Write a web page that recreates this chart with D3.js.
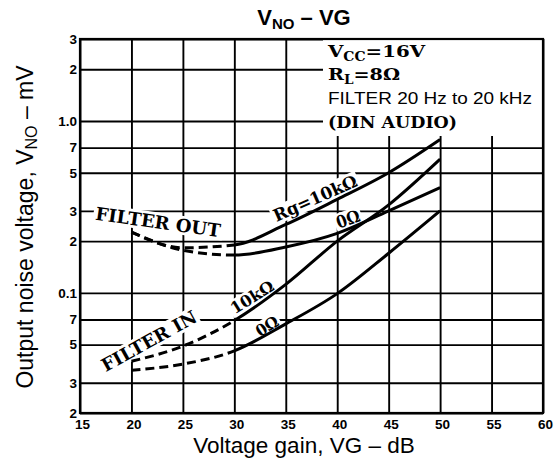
<!DOCTYPE html>
<html><head><meta charset="utf-8">
<script src="https://cdn.jsdelivr.net/npm/d3@7"></script>
<style>body{margin:0;background:#fff}</style>
</head><body>
<svg id="c" width="559" height="464"></svg>
<script>
// ---- data ----
const gains = [20, 25, 30, 35, 40, 45, 50];
const outRg10k = [0.226, 0.183, 0.19, 0.25, 0.35, 0.5, 0.78];
const outRg0   = [0.226, 0.177, 0.166, 0.185, 0.222, 0.3, 0.41];
const inRg10k  = [0.040, 0.049, 0.069, 0.112, 0.2, 0.325, 0.6];
const inRg0    = [0.0355, 0.0385, 0.046, 0.066, 0.099, 0.17, 0.3];
const filterSplit = 30; // dashed below, solid above
const xTicks = [15, 20, 25, 30, 35, 40, 45, 50, 55, 60];
const yTickValues = [3, 2, 1, 0.7, 0.5, 0.3, 0.2, 0.1, 0.07, 0.05, 0.03, 0.02];
const yTickLabels = ["3", "2", "1.0", "7", "5", "3", "2", "0.1", "7", "5", "3", "2"];

const svg = d3.select("#c");
const L = 80, R = 543, T = 39, B = 413;
const x = d3.scaleLinear().domain([15, 60]).range([L, R]);
const y = d3.scaleLog().domain([0.02, 3]).range([B, T]);
const tickFont = "'Liberation Sans', Arial, sans-serif";
const serif = "'DejaVu Serif', serif";

// grid via axes
const gy = svg.append("g").attr("transform", `translate(${L},0)`)
  .call(d3.axisLeft(y).tickValues(yTickValues).tickFormat((d, i) => yTickLabels[i])
    .tickSize(-(R - L)).tickPadding(3));
const gx = svg.append("g").attr("transform", `translate(0,${B})`)
  .call(d3.axisBottom(x).tickValues(xTicks).tickFormat(d3.format("d"))
    .tickSize(-(B - T)).tickPadding(6));
[gx, gy].forEach(g => {
  g.select(".domain").remove();
  g.selectAll(".tick line").attr("stroke", "#000").attr("stroke-width", 1.9);
  g.selectAll(".tick text").attr("fill", "#000").attr("font-family", tickFont)
    .attr("font-weight", "bold").attr("font-size", 13.5);
});
gx.selectAll(".tick text").attr("dx", 2);

// legend area mask
svg.append("rect").attr("x", 323).attr("y", T - 2).attr("width", R - 323 - 1).attr("height", 136 - T + 2)
  .attr("fill", "#fff");

// frame
svg.append("rect").attr("x", L).attr("y", T).attr("width", R - L).attr("height", B - T)
  .attr("fill", "none").attr("stroke", "#000").attr("stroke-width", 2.2);

// rotated labels with white background
function label(txt, cx, cy, angle, size, len) {
  const g = svg.append("g").attr("transform", `translate(${cx},${cy}) rotate(${angle})`);
  const t = g.append("text").attr("text-anchor", "middle").attr("dy", "0.36em")
    .attr("font-family", serif).attr("font-weight", "bold").attr("font-size", size)
    .attr("fill", "#000").text(txt);
  if (len) t.attr("textLength", len).attr("lengthAdjust", "spacingAndGlyphs");
  const bb = t.node().getBBox();
  g.insert("rect", "text").attr("x", bb.x - 2).attr("y", bb.y + 1).attr("width", bb.width + 4)
    .attr("height", bb.height - 2).attr("fill", "#fff");
}
label("FILTER OUT", 158, 222, 8, 18, 126);
label("FILTER IN", 149, 341, -29, 18, 106);
label("Rg=10kΩ", 315, 198, -24, 17, 90);
label("0Ω", 348, 219, -20, 17, 24);
label("10kΩ", 252, 297, -32, 16, 48);
label("0Ω", 267, 326, -32, 16, 24);

// curves
const defs = svg.append("defs");
defs.append("clipPath").attr("id", "clipSolid").append("rect")
  .attr("x", x(filterSplit)).attr("y", 0).attr("width", R - x(filterSplit) + 10).attr("height", 464);
defs.append("clipPath").attr("id", "clipDash").append("rect")
  .attr("x", 0).attr("y", 0).attr("width", x(filterSplit)).attr("height", 464);

const line = d3.line().x(d => x(d[0])).y(d => y(d[1])).curve(d3.curveMonotoneX);
[outRg10k, outRg0, inRg10k, inRg0].forEach(vals => {
  const pts = gains.map((g, i) => [g, vals[i]]);
  svg.append("path").attr("d", line(pts)).attr("fill", "none").attr("stroke", "#000")
    .attr("stroke-width", 3).attr("clip-path", "url(#clipSolid)");
  svg.append("path").attr("d", line(pts)).attr("fill", "none").attr("stroke", "#000")
    .attr("stroke-width", 3).attr("stroke-dasharray", "9,5").attr("clip-path", "url(#clipDash)");
});

// legend text
const lg = svg.append("g").attr("font-family", serif).attr("font-weight", "bold").attr("fill", "#000");
const t1 = lg.append("text").attr("x", 328).attr("y", 57).attr("font-size", 17)
  .attr("textLength", 97).attr("lengthAdjust", "spacingAndGlyphs");
t1.append("tspan").text("V");
t1.append("tspan").attr("font-size", 12).attr("dy", 4).text("CC");
t1.append("tspan").attr("dy", -4).text("=16V");
const t2 = lg.append("text").attr("x", 328).attr("y", 80).attr("font-size", 17)
  .attr("textLength", 72).attr("lengthAdjust", "spacingAndGlyphs");
t2.append("tspan").text("R");
t2.append("tspan").attr("font-size", 12).attr("dy", 4).text("L");
t2.append("tspan").attr("dy", -4).text("=8Ω");
svg.append("text").attr("x", 328).attr("y", 104).attr("font-family", "'Liberation Sans', Arial, sans-serif")
  .attr("font-size", 16.5).attr("fill", "#000").attr("textLength", 204).attr("lengthAdjust", "spacingAndGlyphs")
  .text("FILTER 20 Hz to 20 kHz");
lg.append("text").attr("x", 328).attr("y", 128).attr("font-size", 17)
  .attr("textLength", 129).attr("lengthAdjust", "spacingAndGlyphs").text("(DIN AUDIO)");

// title and axis titles
const sans = "'Liberation Sans', Arial, Helvetica, sans-serif";
const title = svg.append("text").attr("x", 304).attr("y", 25).attr("text-anchor", "middle")
  .attr("font-family", sans).attr("font-weight", "bold").attr("font-size", 22).attr("fill", "#000");
title.append("tspan").text("V");
title.append("tspan").attr("font-size", 15).attr("dy", 4).text("NO");
title.append("tspan").attr("dy", -4).text(" – VG");

svg.append("text").attr("x", 304).attr("y", 453).attr("text-anchor", "middle")
  .attr("font-family", sans).attr("font-size", 22.5).attr("fill", "#000")
  .text("Voltage gain, VG – dB");

const yl = svg.append("text").attr("transform", "translate(33,227) rotate(-90)")
  .attr("text-anchor", "middle").attr("font-family", sans).attr("font-size", 23).attr("fill", "#000");
yl.append("tspan").text("Output noise voltage, V");
yl.append("tspan").attr("font-size", 16).attr("dy", 4).text("NO");
yl.append("tspan").attr("dy", -4).text(" – mV");
</script>
</body></html>
